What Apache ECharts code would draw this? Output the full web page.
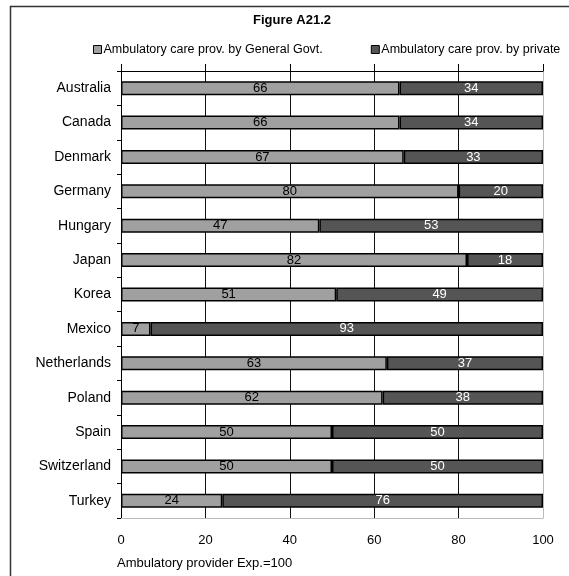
<!DOCTYPE html>
<html><head><meta charset="utf-8">
<script src="https://cdn.jsdelivr.net/npm/echarts@6/dist/echarts.min.js"></script>
<style>html,body{margin:0;padding:0;background:#fff}#c{width:569px;height:576px}</style>
</head><body><div id="c"></div>
<script>
var categories = ['Australia','Canada','Denmark','Germany','Hungary','Japan','Korea','Mexico','Netherlands','Poland','Spain','Switzerland','Turkey'];
var govValues = [66,66,67,80,47,82,51,7,63,62,50,50,24];
var privValues = [34,34,33,20,53,18,49,93,37,38,50,50,76];
var seriesNames = ['Ambulatory care prov. by General Govt.','Ambulatory care prov. by private'];
var xTicks = [0,20,40,60,80,100];
var chartTitle = 'Figure A21.2';
var xAxisName = 'Ambulatory provider Exp.=100';

var FONT = 'Liberation Sans, Arial, sans-serif';
var chart = echarts.init(document.getElementById('c'));
chart.setOption({
  animation: false,
  textStyle: {fontFamily: FONT},
  graphic: [{type:'rect', shape:{x:10.5,y:6.5,width:700,height:700}, style:{fill:null, stroke:'#333', lineWidth:1.5}, z:-1}],
  title: {text: chartTitle, left: 248, top: 9, textStyle:{fontSize:13, fontWeight:'bold', color:'#000', fontFamily: FONT}},
  legend: {left: 88, top: 38, itemWidth: 8, itemHeight: 8, itemGap: 48,
    textStyle:{fontSize:12.5, color:'#000', fontFamily: FONT, padding:[0,0,0,-3]},
    data: seriesNames.map(function(n){return {name:n, icon:'rect', itemStyle:{borderColor:'#000', borderWidth:1}};})},
  grid: {left: 121, right: 26, top: 71, height: 447, containLabel: false},
  xAxis: [{
    type:'value', min: xTicks[0], max: xTicks[xTicks.length-1], interval: 20, position:'bottom',
    axisLine:{show:true, lineStyle:{color:'#bbb', width:1}}, axisTick:{show:false},
    axisLabel:{fontSize:13, color:'#000', margin:16, fontFamily: FONT},
    splitLine:{show:true, lineStyle:{color:['#000','#111','#111','#111','#111','#bbb'], width:1}},
    name: xAxisName, nameLocation:'start', nameGap: 0,
    nameTextStyle:{fontSize:13, color:'#000', align:'left', verticalAlign:'top', padding:[39,0,0,-4], fontFamily: FONT}
  },{
    type:'value', min: xTicks[0], max: xTicks[xTicks.length-1], interval: 20, position:'top',
    axisLine:{show:true, lineStyle:{color:'#000', width:1}},
    axisTick:{show:true, length:7, lineStyle:{color:'#000'}},
    axisLabel:{show:false}, splitLine:{show:false}
  }],
  yAxis: {
    type:'category', data: categories, inverse: true,
    axisLine:{show:true, lineStyle:{color:'#000', width:1}},
    axisTick:{show:true, length:4, alignWithLabel:false, interval:0, lineStyle:{color:'#000'}},
    axisLabel:{fontSize:14, color:'#000', margin:10, fontFamily: FONT}
  },
  series: [{
    name: seriesNames[0], type:'bar', stack:'a', data: govValues, barWidth: 14,
    itemStyle:{color:'#a0a0a0', borderColor:'#000', borderWidth:1.5},
    label:{show:true, position:'inside', color:'#000', fontSize:13, fontFamily: FONT}
  },{
    name: seriesNames[1], type:'bar', stack:'a', data: privValues, barWidth: 14,
    itemStyle:{color:'#555', borderColor:'#000', borderWidth:1.5},
    label:{show:true, position:'inside', color:'#fff', fontSize:13, fontFamily: FONT}
  }]
});
</script></body></html>
